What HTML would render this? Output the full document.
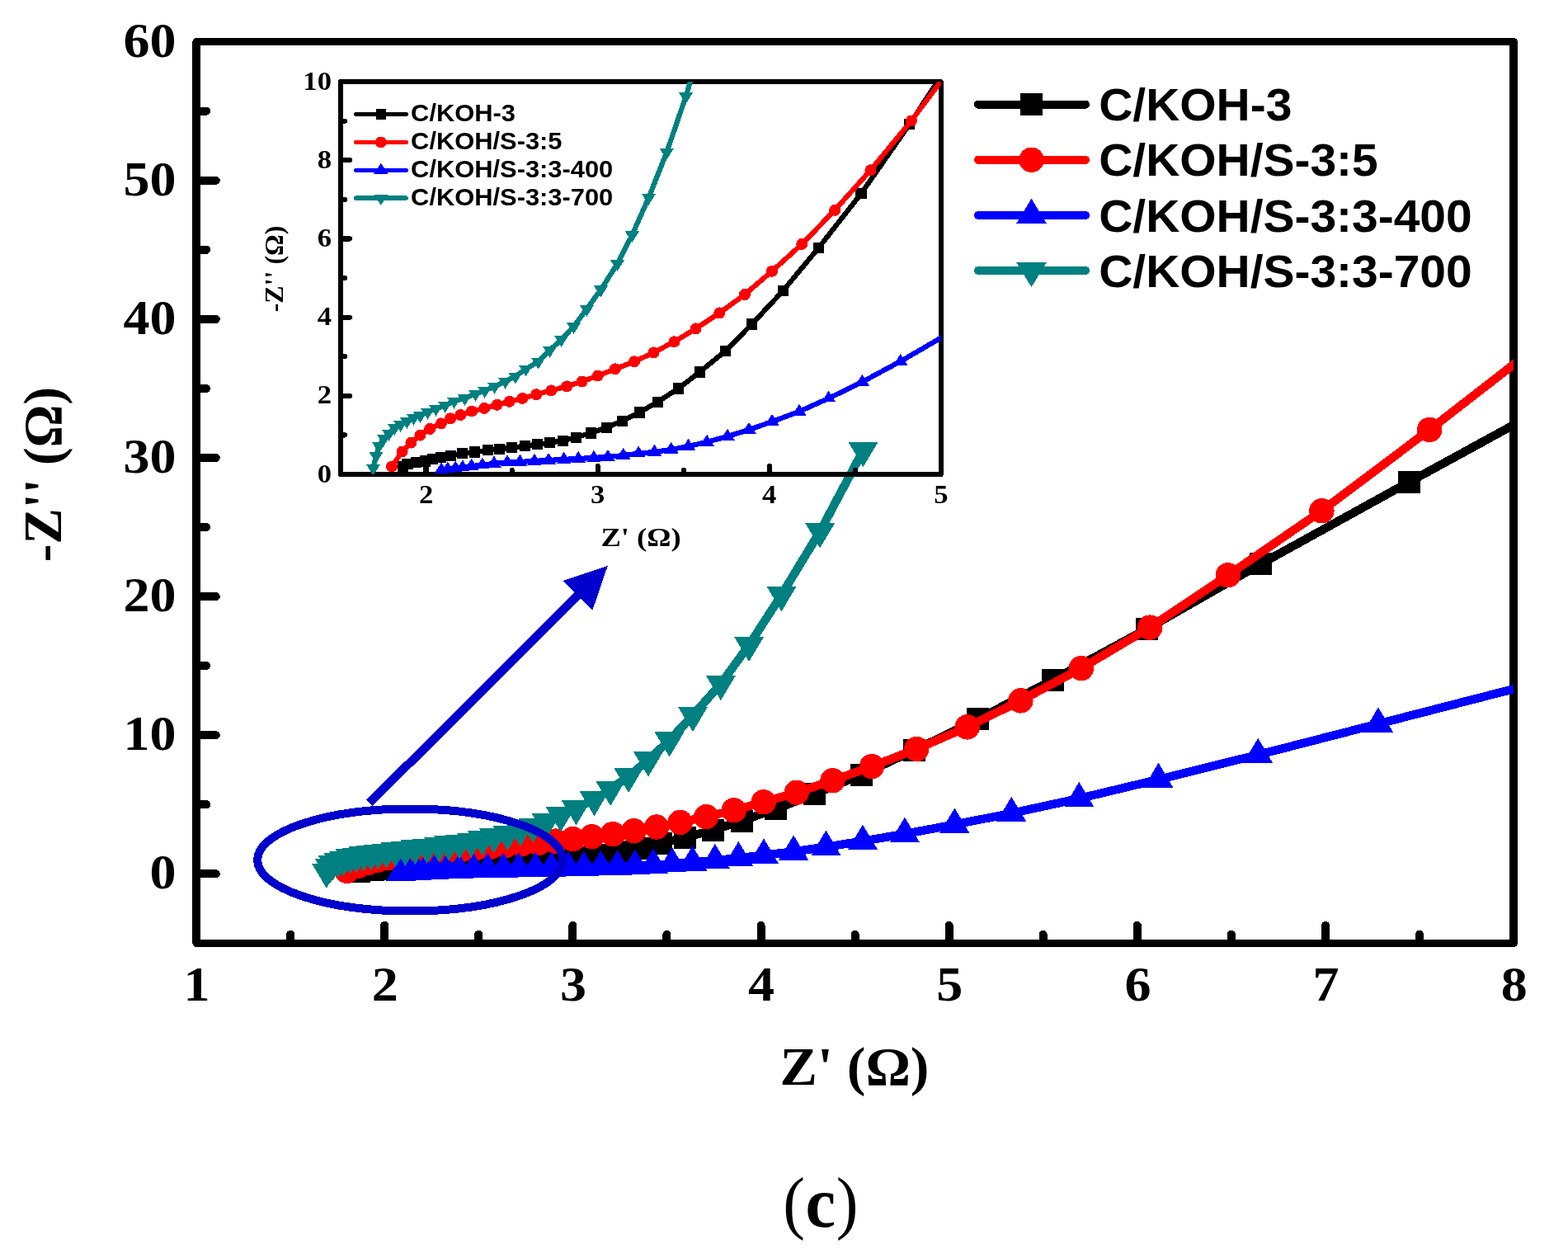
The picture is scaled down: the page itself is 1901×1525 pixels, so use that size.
<!DOCTYPE html>
<html lang="en"><head><meta charset="utf-8"><title>Nyquist plot (c)</title>
<style>html,body{margin:0;padding:0;background:#fff}body{width:1901px;height:1525px;overflow:hidden}svg{display:block;shape-rendering:crispEdges}.tk{font-family:"Liberation Serif","DejaVu Serif",serif;font-weight:bold;fill:#000}.cp{font-family:"Liberation Serif","DejaVu Serif",serif;fill:#000}.cb{font-weight:bold}.lg{font-family:"Liberation Sans","DejaVu Sans",sans-serif;font-weight:bold;fill:#000}</style></head><body>
<svg width="1901" height="1525" viewBox="0 0 1901 1525">
<rect width="1901" height="1525" fill="#fff"/>
<defs><clipPath id="cm"><rect x="238" y="50.7" width="1597.1" height="1092.7"/></clipPath>
<clipPath id="ci"><rect x="412.5" y="99.1" width="728.2" height="475.9"/></clipPath></defs>
<g id="main-axes" stroke="#000" fill="none" stroke-linecap="round">
<rect x="238" y="50.7" width="1597.1" height="1092.7" stroke-width="9.4" stroke-linejoin="round"/>
<path d="M239 1059.3H261.8M239 975.2H250.2M239 891.2H261.8M239 807.1H250.2M239 723.1H261.8M239 639H250.2M239 555H261.8M239 470.9H250.2M239 386.9H261.8M239 302.8H250.2M239 218.8H261.8M239 134.7H250.2M352.1 1142.4V1132.7M466.2 1142.4V1121.8M580.2 1142.4V1132.7M694.3 1142.4V1121.8M808.4 1142.4V1132.7M922.5 1142.4V1121.8M1036.6 1142.4V1132.7M1150.6 1142.4V1121.8M1264.7 1142.4V1132.7M1378.8 1142.4V1121.8M1492.9 1142.4V1132.7M1607 1142.4V1121.8M1721 1142.4V1132.7" stroke-width="10"/>
</g>
<g id="main-data" clip-path="url(#cm)">
<g fill="#000000" stroke="none">
<polyline fill="none" stroke="#000000" stroke-width="10.4" stroke-linejoin="round" points="435.2,1056 441.4,1054.8 452.8,1054.1 464.8,1053.6 474.7,1052.6 486.1,1052 499.1,1051.3 514.1,1050.3 530.8,1049.8 548.3,1049 563.6,1048.5 580.1,1047.9 597.5,1047.2 614.1,1046.5 630.6,1045.8 648.1,1044.9 665.6,1043.5 685.4,1041.6 706.3,1039.2 726.9,1036.4 750,1032.8 774.1,1028.3 801.6,1022.6 830.1,1015.4 864.1,1006.5 899.2,995 940.7,980.7 987.9,962.4 1044.5,939.1 1108.6,909.5 1185.8,871.9 1276.3,824.2 1390,762.7 1528.4,683.7 1708.5,584.3 1900,479.7"/>
<rect x="421.7" y="1042.5" width="27" height="27"/>
<rect x="427.9" y="1041.3" width="27" height="27"/>
<rect x="439.3" y="1040.6" width="27" height="27"/>
<rect x="451.3" y="1040.1" width="27" height="27"/>
<rect x="461.2" y="1039.1" width="27" height="27"/>
<rect x="472.6" y="1038.5" width="27" height="27"/>
<rect x="485.6" y="1037.8" width="27" height="27"/>
<rect x="500.6" y="1036.8" width="27" height="27"/>
<rect x="517.3" y="1036.3" width="27" height="27"/>
<rect x="534.8" y="1035.5" width="27" height="27"/>
<rect x="550.1" y="1035" width="27" height="27"/>
<rect x="566.6" y="1034.4" width="27" height="27"/>
<rect x="584" y="1033.7" width="27" height="27"/>
<rect x="600.6" y="1033" width="27" height="27"/>
<rect x="617.1" y="1032.3" width="27" height="27"/>
<rect x="634.6" y="1031.4" width="27" height="27"/>
<rect x="652.1" y="1030" width="27" height="27"/>
<rect x="671.9" y="1028.1" width="27" height="27"/>
<rect x="692.8" y="1025.7" width="27" height="27"/>
<rect x="713.4" y="1022.9" width="27" height="27"/>
<rect x="736.5" y="1019.3" width="27" height="27"/>
<rect x="760.6" y="1014.8" width="27" height="27"/>
<rect x="788.1" y="1009.1" width="27" height="27"/>
<rect x="816.6" y="1001.9" width="27" height="27"/>
<rect x="850.6" y="993" width="27" height="27"/>
<rect x="885.7" y="981.5" width="27" height="27"/>
<rect x="927.2" y="967.2" width="27" height="27"/>
<rect x="974.4" y="948.9" width="27" height="27"/>
<rect x="1031" y="925.6" width="27" height="27"/>
<rect x="1095.1" y="896" width="27" height="27"/>
<rect x="1172.3" y="858.4" width="27" height="27"/>
<rect x="1262.8" y="810.7" width="27" height="27"/>
<rect x="1376.5" y="749.2" width="27" height="27"/>
<rect x="1514.9" y="670.2" width="27" height="27"/>
<rect x="1695" y="570.8" width="27" height="27"/>
</g>
<g fill="#ff0000" stroke="none">
<polyline fill="none" stroke="#ff0000" stroke-width="10.4" stroke-linejoin="round" points="420.6,1055.9 434.4,1049.6 446.3,1045.7 458.3,1042.6 471.1,1039.9 486.3,1037.5 498.4,1035.4 511.9,1033.9 527,1032.3 543.6,1031 560.5,1029.6 577,1028.2 594.3,1026.8 612.7,1025.1 632.4,1023.4 653.2,1021.7 673.5,1019.6 694.5,1017.1 717.6,1014.2 742.9,1011.1 768.6,1007.2 796,1002.5 824.6,996.9 856.2,990.2 889.9,982.3 925.9,972.3 965.8,960.7 1009.5,946.2 1057,929.1 1111.2,908 1172.6,881.4 1237.4,849.4 1310.8,810.1 1394.2,760.6 1488.8,697.3 1602.4,619.3 1733.1,521 1900,391.5"/>
<circle cx="420.6" cy="1055.9" r="15.2"/>
<circle cx="434.4" cy="1049.6" r="15.2"/>
<circle cx="446.3" cy="1045.7" r="15.2"/>
<circle cx="458.3" cy="1042.6" r="15.2"/>
<circle cx="471.1" cy="1039.9" r="15.2"/>
<circle cx="486.3" cy="1037.5" r="15.2"/>
<circle cx="498.4" cy="1035.4" r="15.2"/>
<circle cx="511.9" cy="1033.9" r="15.2"/>
<circle cx="527" cy="1032.3" r="15.2"/>
<circle cx="543.6" cy="1031" r="15.2"/>
<circle cx="560.5" cy="1029.6" r="15.2"/>
<circle cx="577" cy="1028.2" r="15.2"/>
<circle cx="594.3" cy="1026.8" r="15.2"/>
<circle cx="612.7" cy="1025.1" r="15.2"/>
<circle cx="632.4" cy="1023.4" r="15.2"/>
<circle cx="653.2" cy="1021.7" r="15.2"/>
<circle cx="673.5" cy="1019.6" r="15.2"/>
<circle cx="694.5" cy="1017.1" r="15.2"/>
<circle cx="717.6" cy="1014.2" r="15.2"/>
<circle cx="742.9" cy="1011.1" r="15.2"/>
<circle cx="768.6" cy="1007.2" r="15.2"/>
<circle cx="796" cy="1002.5" r="15.2"/>
<circle cx="824.6" cy="996.9" r="15.2"/>
<circle cx="856.2" cy="990.2" r="15.2"/>
<circle cx="889.9" cy="982.3" r="15.2"/>
<circle cx="925.9" cy="972.3" r="15.2"/>
<circle cx="965.8" cy="960.7" r="15.2"/>
<circle cx="1009.5" cy="946.2" r="15.2"/>
<circle cx="1057" cy="929.1" r="15.2"/>
<circle cx="1111.2" cy="908" r="15.2"/>
<circle cx="1172.6" cy="881.4" r="15.2"/>
<circle cx="1237.4" cy="849.4" r="15.2"/>
<circle cx="1310.8" cy="810.1" r="15.2"/>
<circle cx="1394.2" cy="760.6" r="15.2"/>
<circle cx="1488.8" cy="697.3" r="15.2"/>
<circle cx="1602.4" cy="619.3" r="15.2"/>
<circle cx="1733.1" cy="521" r="15.2"/>
</g>
<g fill="#0000ff" stroke="none">
<polyline fill="none" stroke="#0000ff" stroke-width="10.4" stroke-linejoin="round" points="486.5,1057.4 495.1,1057.1 505.2,1056.8 514.8,1056.3 526.7,1055.8 541,1055.3 556.6,1054.7 574.1,1054.2 591.1,1054 610.2,1053.6 628.9,1053.3 649.3,1052.9 668.5,1052.6 689.1,1052.2 707.9,1051.9 728.4,1051.2 748.5,1050.4 769.8,1049.7 792,1048.7 814.8,1047.3 839.5,1045.5 866.9,1043 895.3,1040.2 926,1036.7 962.1,1032.4 1001.4,1026.7 1045.9,1019.7 1096.9,1010.9 1157.4,999.6 1226.2,985.9 1308.3,968 1404.5,944.9 1525.2,915 1671,877.5 1900,818.5"/>
<path d="M486.5 1037.2L504.5 1067.5L468.5 1067.5Z"/>
<path d="M495.1 1036.9L513.1 1067.2L477.1 1067.2Z"/>
<path d="M505.2 1036.6L523.2 1066.9L487.2 1066.9Z"/>
<path d="M514.8 1036.1L532.8 1066.4L496.8 1066.4Z"/>
<path d="M526.7 1035.6L544.7 1065.9L508.7 1065.9Z"/>
<path d="M541 1035.1L559 1065.4L523 1065.4Z"/>
<path d="M556.6 1034.5L574.6 1064.8L538.6 1064.8Z"/>
<path d="M574.1 1034L592.1 1064.3L556.1 1064.3Z"/>
<path d="M591.1 1033.8L609.1 1064.1L573.1 1064.1Z"/>
<path d="M610.2 1033.4L628.2 1063.7L592.2 1063.7Z"/>
<path d="M628.9 1033.1L646.9 1063.4L610.9 1063.4Z"/>
<path d="M649.3 1032.7L667.3 1063L631.3 1063Z"/>
<path d="M668.5 1032.4L686.5 1062.7L650.5 1062.7Z"/>
<path d="M689.1 1032L707.1 1062.3L671.1 1062.3Z"/>
<path d="M707.9 1031.7L725.9 1062L689.9 1062Z"/>
<path d="M728.4 1031L746.4 1061.3L710.4 1061.3Z"/>
<path d="M748.5 1030.2L766.5 1060.5L730.5 1060.5Z"/>
<path d="M769.8 1029.5L787.8 1059.8L751.8 1059.8Z"/>
<path d="M792 1028.5L810 1058.8L774 1058.8Z"/>
<path d="M814.8 1027.1L832.8 1057.4L796.8 1057.4Z"/>
<path d="M839.5 1025.3L857.5 1055.6L821.5 1055.6Z"/>
<path d="M866.9 1022.8L884.9 1053.1L848.9 1053.1Z"/>
<path d="M895.3 1020L913.3 1050.3L877.3 1050.3Z"/>
<path d="M926 1016.5L944 1046.8L908 1046.8Z"/>
<path d="M962.1 1012.2L980.1 1042.5L944.1 1042.5Z"/>
<path d="M1001.4 1006.5L1019.4 1036.8L983.4 1036.8Z"/>
<path d="M1045.9 999.5L1063.9 1029.8L1027.9 1029.8Z"/>
<path d="M1096.9 990.7L1114.9 1021L1078.9 1021Z"/>
<path d="M1157.4 979.4L1175.4 1009.7L1139.4 1009.7Z"/>
<path d="M1226.2 965.7L1244.2 996L1208.2 996Z"/>
<path d="M1308.3 947.8L1326.3 978.1L1290.3 978.1Z"/>
<path d="M1404.5 924.7L1422.5 955L1386.5 955Z"/>
<path d="M1525.2 894.8L1543.2 925.1L1507.2 925.1Z"/>
<path d="M1671 857.3L1689 887.6L1653 887.6Z"/>
</g>
<g fill="#008080" stroke="none">
<polyline fill="none" stroke="#008080" stroke-width="10.4" stroke-linejoin="round" points="395.9,1056.7 399.8,1051.4 403.6,1047.1 410.2,1043.9 416.8,1041.8 424.4,1039.3 432.2,1037.9 440.8,1036.5 449.7,1035.1 458.4,1034.1 468.3,1032.6 479.3,1031.2 491.4,1029.8 503.4,1028 517.6,1026.7 531.9,1024.9 544.1,1023.5 557.1,1021.7 571.4,1019.6 584.8,1017.4 598.8,1014.2 615.3,1011.1 630.7,1006.1 646,1001.6 662.5,996 679.8,988.5 698.5,980.2 720.5,969.1 740.1,956.8 762.1,940.8 786,921.4 811.6,897.4 840,867 873.9,829 908.1,782 947.5,721.1 994.2,644.2 1046.5,546"/>
<path d="M395.9 1076.9L413.9 1046.6L377.9 1046.6Z"/>
<path d="M399.8 1071.6L417.8 1041.3L381.8 1041.3Z"/>
<path d="M403.6 1067.3L421.6 1037L385.6 1037Z"/>
<path d="M410.2 1064.1L428.2 1033.8L392.2 1033.8Z"/>
<path d="M416.8 1062L434.8 1031.7L398.8 1031.7Z"/>
<path d="M424.4 1059.5L442.4 1029.2L406.4 1029.2Z"/>
<path d="M432.2 1058.1L450.2 1027.8L414.2 1027.8Z"/>
<path d="M440.8 1056.7L458.8 1026.4L422.8 1026.4Z"/>
<path d="M449.7 1055.3L467.7 1025L431.7 1025Z"/>
<path d="M458.4 1054.3L476.4 1024L440.4 1024Z"/>
<path d="M468.3 1052.8L486.3 1022.5L450.3 1022.5Z"/>
<path d="M479.3 1051.4L497.3 1021.1L461.3 1021.1Z"/>
<path d="M491.4 1050L509.4 1019.7L473.4 1019.7Z"/>
<path d="M503.4 1048.2L521.4 1017.9L485.4 1017.9Z"/>
<path d="M517.6 1046.9L535.6 1016.6L499.6 1016.6Z"/>
<path d="M531.9 1045.1L549.9 1014.8L513.9 1014.8Z"/>
<path d="M544.1 1043.7L562.1 1013.4L526.1 1013.4Z"/>
<path d="M557.1 1041.9L575.1 1011.6L539.1 1011.6Z"/>
<path d="M571.4 1039.8L589.4 1009.5L553.4 1009.5Z"/>
<path d="M584.8 1037.6L602.8 1007.3L566.8 1007.3Z"/>
<path d="M598.8 1034.4L616.8 1004.1L580.8 1004.1Z"/>
<path d="M615.3 1031.3L633.3 1001L597.3 1001Z"/>
<path d="M630.7 1026.3L648.7 996L612.7 996Z"/>
<path d="M646 1021.8L664 991.5L628 991.5Z"/>
<path d="M662.5 1016.2L680.5 985.9L644.5 985.9Z"/>
<path d="M679.8 1008.7L697.8 978.4L661.8 978.4Z"/>
<path d="M698.5 1000.4L716.5 970.1L680.5 970.1Z"/>
<path d="M720.5 989.3L738.5 959L702.5 959Z"/>
<path d="M740.1 977L758.1 946.7L722.1 946.7Z"/>
<path d="M762.1 961L780.1 930.7L744.1 930.7Z"/>
<path d="M786 941.6L804 911.3L768 911.3Z"/>
<path d="M811.6 917.6L829.6 887.3L793.6 887.3Z"/>
<path d="M840 887.2L858 856.9L822 856.9Z"/>
<path d="M873.9 849.2L891.9 818.9L855.9 818.9Z"/>
<path d="M908.1 802.2L926.1 771.9L890.1 771.9Z"/>
<path d="M947.5 741.3L965.5 711L929.5 711Z"/>
<path d="M994.2 664.4L1012.2 634.1L976.2 634.1Z"/>
<path d="M1046.5 566.2L1064.5 535.9L1028.5 535.9Z"/>
</g>
</g>
<g id="annot" stroke="#0000cd" fill="none">
<ellipse cx="497.3" cy="1042.5" rx="185.2" ry="62" stroke-width="10"/>
<line x1="447.8" y1="973.5" x2="702" y2="720.5" stroke-width="10.6"/>
<path d="M736.7 686.1L682.9 703.9L718.3 739.9Z" fill="#0000cd" stroke="none"/>
</g>
<g id="inset-axes" stroke="#000" fill="none" stroke-linecap="round">
<rect x="412.5" y="99.1" width="728.2" height="475.9" stroke-width="6.0" stroke-linejoin="round"/>
<path d="M413 527.4H418M413 479.8H424M413 432.2H418M413 384.6H424M413 337H418M413 289.4H424M413 241.8H418M413 194.2H424M413 146.6H418M516.5 574.5V565M620.6 574.5V570M724.6 574.5V565M828.7 574.5V570M932.8 574.5V565M1036.8 574.5V570" stroke-width="6.2"/>
</g>
<g id="inset-data" clip-path="url(#ci)">
<g fill="#000000" stroke="none">
<polyline fill="none" stroke="#000000" stroke-width="6.2" stroke-linejoin="round" points="488.3,565.6 494,562.3 504.4,560.4 515.3,558.9 524.3,556.1 534.7,554.2 546.6,552.3 560.3,549.5 575.5,548 591.5,545.7 605.4,544.3 620.5,542.7 636.3,540.7 651.5,538.7 666.5,536.8 682.5,534.1 698.5,530.2 716.5,524.9 735.6,518.1 754.4,510.2 775.4,500 797.4,487.1 822.5,471 848.5,450.8 879.5,425.5 911.5,393 949.4,352.4 992.4,300.5 1044,234.7 1102.5,150.8 1172.9,44.4"/>
<rect x="481.7" y="559" width="13.3" height="13.3"/>
<rect x="487.4" y="555.6" width="13.3" height="13.3"/>
<rect x="497.8" y="553.8" width="13.3" height="13.3"/>
<rect x="508.6" y="552.2" width="13.3" height="13.3"/>
<rect x="517.6" y="549.5" width="13.3" height="13.3"/>
<rect x="528.1" y="547.6" width="13.3" height="13.3"/>
<rect x="540" y="545.6" width="13.3" height="13.3"/>
<rect x="553.6" y="542.9" width="13.3" height="13.3"/>
<rect x="568.9" y="541.4" width="13.3" height="13.3"/>
<rect x="584.9" y="539.1" width="13.3" height="13.3"/>
<rect x="598.8" y="537.6" width="13.3" height="13.3"/>
<rect x="613.9" y="536.1" width="13.3" height="13.3"/>
<rect x="629.6" y="534.1" width="13.3" height="13.3"/>
<rect x="644.9" y="532.1" width="13.3" height="13.3"/>
<rect x="659.9" y="530.1" width="13.3" height="13.3"/>
<rect x="675.9" y="527.5" width="13.3" height="13.3"/>
<rect x="691.9" y="523.6" width="13.3" height="13.3"/>
<rect x="709.9" y="518.2" width="13.3" height="13.3"/>
<rect x="729" y="511.5" width="13.3" height="13.3"/>
<rect x="747.8" y="503.6" width="13.3" height="13.3"/>
<rect x="768.8" y="493.4" width="13.3" height="13.3"/>
<rect x="790.8" y="480.5" width="13.3" height="13.3"/>
<rect x="815.9" y="464.4" width="13.3" height="13.3"/>
<rect x="841.9" y="444.2" width="13.3" height="13.3"/>
<rect x="872.9" y="418.9" width="13.3" height="13.3"/>
<rect x="904.9" y="386.4" width="13.3" height="13.3"/>
<rect x="942.8" y="345.8" width="13.3" height="13.3"/>
<rect x="985.8" y="293.9" width="13.3" height="13.3"/>
<rect x="1037.3" y="228" width="13.3" height="13.3"/>
<rect x="1095.8" y="144.1" width="13.3" height="13.3"/>
</g>
<g fill="#ff0000" stroke="none">
<polyline fill="none" stroke="#ff0000" stroke-width="6.2" stroke-linejoin="round" points="475,565.5 487.6,547.5 498.4,536.6 509.4,527.6 521.1,520 534.9,513.4 546,507.4 558.3,503 572,498.5 587.2,494.9 602.6,490.8 617.6,486.8 633.4,482.9 650.2,478.2 668.2,473.4 687.1,468.4 705.7,462.5 724.8,455.5 745.9,447.3 769,438.4 792.4,427.4 817.4,414.3 843.5,398.4 872.3,379.4 903,357 935.9,328.8 972.3,295.9 1012.1,254.8 1055.4,206.3 1104.9,146.5 1160.9,71.3"/>
<circle cx="475" cy="565.5" r="7"/>
<circle cx="487.6" cy="547.5" r="7"/>
<circle cx="498.4" cy="536.6" r="7"/>
<circle cx="509.4" cy="527.6" r="7"/>
<circle cx="521.1" cy="520" r="7"/>
<circle cx="534.9" cy="513.4" r="7"/>
<circle cx="546" cy="507.4" r="7"/>
<circle cx="558.3" cy="503" r="7"/>
<circle cx="572" cy="498.5" r="7"/>
<circle cx="587.2" cy="494.9" r="7"/>
<circle cx="602.6" cy="490.8" r="7"/>
<circle cx="617.6" cy="486.8" r="7"/>
<circle cx="633.4" cy="482.9" r="7"/>
<circle cx="650.2" cy="478.2" r="7"/>
<circle cx="668.2" cy="473.4" r="7"/>
<circle cx="687.1" cy="468.4" r="7"/>
<circle cx="705.7" cy="462.5" r="7"/>
<circle cx="724.8" cy="455.5" r="7"/>
<circle cx="745.9" cy="447.3" r="7"/>
<circle cx="769" cy="438.4" r="7"/>
<circle cx="792.4" cy="427.4" r="7"/>
<circle cx="817.4" cy="414.3" r="7"/>
<circle cx="843.5" cy="398.4" r="7"/>
<circle cx="872.3" cy="379.4" r="7"/>
<circle cx="903" cy="357" r="7"/>
<circle cx="935.9" cy="328.8" r="7"/>
<circle cx="972.3" cy="295.9" r="7"/>
<circle cx="1012.1" cy="254.8" r="7"/>
<circle cx="1055.4" cy="206.3" r="7"/>
<circle cx="1104.9" cy="146.5" r="7"/>
</g>
<g fill="#0000ff" stroke="none">
<polyline fill="none" stroke="#0000ff" stroke-width="6.2" stroke-linejoin="round" points="535.1,569.7 542.9,568.8 552.2,567.8 560.9,566.6 571.8,565 584.8,563.8 599,561.9 615,560.6 630.5,559.9 647.9,558.9 665,558 683.6,556.9 701.1,556 719.9,554.9 737,554 755.7,552 774.1,549.7 793.5,547.9 813.7,545 834.5,541 857.1,535.9 882.1,528.9 908,521 936,511.1 968.9,498.9 1004.7,482.8 1045.3,463 1091.8,438 1147,406"/>
<path d="M535.1 560.5L543.7 574.3L526.5 574.3Z"/>
<path d="M542.9 559.6L551.5 573.4L534.3 573.4Z"/>
<path d="M552.2 558.6L560.8 572.4L543.6 572.4Z"/>
<path d="M560.9 557.4L569.5 571.2L552.3 571.2Z"/>
<path d="M571.8 555.8L580.4 569.6L563.2 569.6Z"/>
<path d="M584.8 554.6L593.4 568.4L576.2 568.4Z"/>
<path d="M599 552.7L607.6 566.5L590.4 566.5Z"/>
<path d="M615 551.4L623.6 565.2L606.4 565.2Z"/>
<path d="M630.5 550.7L639.1 564.5L621.9 564.5Z"/>
<path d="M647.9 549.7L656.5 563.5L639.3 563.5Z"/>
<path d="M665 548.8L673.6 562.6L656.4 562.6Z"/>
<path d="M683.6 547.7L692.2 561.5L675 561.5Z"/>
<path d="M701.1 546.8L709.7 560.6L692.5 560.6Z"/>
<path d="M719.9 545.7L728.5 559.5L711.3 559.5Z"/>
<path d="M737 544.8L745.6 558.6L728.4 558.6Z"/>
<path d="M755.7 542.8L764.3 556.6L747.1 556.6Z"/>
<path d="M774.1 540.5L782.7 554.3L765.5 554.3Z"/>
<path d="M793.5 538.7L802.1 552.5L784.9 552.5Z"/>
<path d="M813.7 535.8L822.3 549.6L805.1 549.6Z"/>
<path d="M834.5 531.8L843.1 545.6L825.9 545.6Z"/>
<path d="M857.1 526.7L865.7 540.5L848.5 540.5Z"/>
<path d="M882.1 519.7L890.7 533.5L873.5 533.5Z"/>
<path d="M908 511.8L916.6 525.6L899.4 525.6Z"/>
<path d="M936 501.9L944.6 515.7L927.4 515.7Z"/>
<path d="M968.9 489.7L977.5 503.5L960.3 503.5Z"/>
<path d="M1004.7 473.6L1013.3 487.4L996.1 487.4Z"/>
<path d="M1045.3 453.8L1053.9 467.6L1036.7 467.6Z"/>
<path d="M1091.8 428.8L1100.4 442.6L1083.2 442.6Z"/>
</g>
<g fill="#008080" stroke="none">
<polyline fill="none" stroke="#008080" stroke-width="6.2" stroke-linejoin="round" points="452.5,567.5 456,552.5 459.5,540.5 465.5,531.5 471.5,525.4 478.5,518.5 485.6,514.5 493.4,510.5 501.5,506.4 509.5,503.6 518.5,499.5 528.5,495.5 539.6,491.5 550.5,486.5 563.5,482.6 576.5,477.5 587.6,473.6 599.5,468.5 612.5,462.5 624.8,456.3 637.5,447.3 652.6,438.4 666.6,424.5 680.6,411.5 695.6,395.7 711.4,374.6 728.5,351 748.5,319.7 766.4,284.8 786.5,239.5 808.3,184.6 831.6,116.7 857.5,30.5"/>
<path d="M452.5 576.7L461.1 562.9L443.9 562.9Z"/>
<path d="M456 561.7L464.6 547.9L447.4 547.9Z"/>
<path d="M459.5 549.7L468.1 535.9L450.9 535.9Z"/>
<path d="M465.5 540.7L474.1 526.9L456.9 526.9Z"/>
<path d="M471.5 534.6L480.1 520.8L462.9 520.8Z"/>
<path d="M478.5 527.7L487.1 513.9L469.9 513.9Z"/>
<path d="M485.6 523.7L494.2 509.9L477 509.9Z"/>
<path d="M493.4 519.7L502 505.9L484.8 505.9Z"/>
<path d="M501.5 515.6L510.1 501.8L492.9 501.8Z"/>
<path d="M509.5 512.8L518.1 499L500.9 499Z"/>
<path d="M518.5 508.7L527.1 494.9L509.9 494.9Z"/>
<path d="M528.5 504.7L537.1 490.9L519.9 490.9Z"/>
<path d="M539.6 500.7L548.2 486.9L531 486.9Z"/>
<path d="M550.5 495.7L559.1 481.9L541.9 481.9Z"/>
<path d="M563.5 491.8L572.1 478L554.9 478Z"/>
<path d="M576.5 486.7L585.1 472.9L567.9 472.9Z"/>
<path d="M587.6 482.8L596.2 469L579 469Z"/>
<path d="M599.5 477.7L608.1 463.9L590.9 463.9Z"/>
<path d="M612.5 471.7L621.1 457.9L603.9 457.9Z"/>
<path d="M624.8 465.5L633.4 451.7L616.2 451.7Z"/>
<path d="M637.5 456.5L646.1 442.7L628.9 442.7Z"/>
<path d="M652.6 447.6L661.2 433.8L644 433.8Z"/>
<path d="M666.6 433.7L675.2 419.9L658 419.9Z"/>
<path d="M680.6 420.7L689.2 406.9L672 406.9Z"/>
<path d="M695.6 404.9L704.2 391.1L687 391.1Z"/>
<path d="M711.4 383.8L720 370L702.8 370Z"/>
<path d="M728.5 360.2L737.1 346.4L719.9 346.4Z"/>
<path d="M748.5 328.9L757.1 315.1L739.9 315.1Z"/>
<path d="M766.4 294L775 280.2L757.8 280.2Z"/>
<path d="M786.5 248.7L795.1 234.9L777.9 234.9Z"/>
<path d="M808.3 193.8L816.9 180L799.7 180Z"/>
<path d="M831.6 125.9L840.2 112.1L823 112.1Z"/>
</g>
</g>
<g id="main-legend">
<g fill="#000000" stroke="none">
<line x1="1186" y1="126.7" x2="1316" y2="126.7" stroke="#000000" stroke-width="10.1" stroke-linecap="round"/>
<rect x="1237" y="113.2" width="27" height="27"/>
</g>
<text class="lg" font-size="56" transform="translate(1332.2 146.3) scale(1.017 1)">C/KOH-3</text>
<g fill="#ff0000" stroke="none">
<line x1="1186" y1="193.8" x2="1316" y2="193.8" stroke="#ff0000" stroke-width="10.1" stroke-linecap="round"/>
<circle cx="1250.5" cy="193.8" r="15.2"/>
</g>
<text class="lg" font-size="56" transform="translate(1332.2 213.4) scale(1.017 1)">C/KOH/S-3:5</text>
<g fill="#0000ff" stroke="none">
<line x1="1186" y1="261" x2="1316" y2="261" stroke="#0000ff" stroke-width="10.1" stroke-linecap="round"/>
<path d="M1250.5 240.8L1269 271.1L1232 271.1Z"/>
</g>
<text class="lg" font-size="56" transform="translate(1332.2 280.6) scale(1.017 1)">C/KOH/S-3:3-400</text>
<g fill="#008080" stroke="none">
<line x1="1186" y1="327.9" x2="1316" y2="327.9" stroke="#008080" stroke-width="10.1" stroke-linecap="round"/>
<path d="M1250.5 348.1L1269 317.8L1232 317.8Z"/>
</g>
<text class="lg" font-size="56" transform="translate(1332.2 347.5) scale(1.017 1)">C/KOH/S-3:3-700</text>
</g>
<g id="inset-legend">
<g fill="#000000" stroke="none">
<line x1="431.6" y1="138.4" x2="492.2" y2="138.4" stroke="#000000" stroke-width="5.3" stroke-linecap="round"/>
<rect x="455.5" y="132.1" width="12.6" height="12.6"/>
</g>
<text class="lg" font-size="29.2" transform="translate(498.1 147.1) scale(1.057 1)">C/KOH-3</text>
<g fill="#ff0000" stroke="none">
<line x1="431.6" y1="172.4" x2="492.2" y2="172.4" stroke="#ff0000" stroke-width="5.3" stroke-linecap="round"/>
<circle cx="461.8" cy="172.4" r="6.9"/>
</g>
<text class="lg" font-size="29.2" transform="translate(498.1 181.1) scale(1.057 1)">C/KOH/S-3:5</text>
<g fill="#0000ff" stroke="none">
<line x1="431.6" y1="206.4" x2="492.2" y2="206.4" stroke="#0000ff" stroke-width="5.3" stroke-linecap="round"/>
<path d="M461.8 197.7L470.3 210.7L453.3 210.7Z"/>
</g>
<text class="lg" font-size="29.2" transform="translate(498.1 215.1) scale(1.057 1)">C/KOH/S-3:3-400</text>
<g fill="#008080" stroke="none">
<line x1="431.6" y1="240.1" x2="492.2" y2="240.1" stroke="#008080" stroke-width="5.3" stroke-linecap="round"/>
<path d="M461.8 248.8L470.3 235.8L453.3 235.8Z"/>
</g>
<text class="lg" font-size="29.2" transform="translate(498.1 248.8) scale(1.057 1)">C/KOH/S-3:3-700</text>
</g>
<g id="main-ticklabels">
<text class="tk" font-size="59" transform="translate(213.4 1077.3) scale(1.085 1)" text-anchor="end">0</text>
<text class="tk" font-size="59" transform="translate(213.4 909.19) scale(1.085 1)" text-anchor="end">10</text>
<text class="tk" font-size="59" transform="translate(213.4 741.08) scale(1.085 1)" text-anchor="end">20</text>
<text class="tk" font-size="59" transform="translate(213.4 572.97) scale(1.085 1)" text-anchor="end">30</text>
<text class="tk" font-size="59" transform="translate(213.4 404.86) scale(1.085 1)" text-anchor="end">40</text>
<text class="tk" font-size="59" transform="translate(213.4 236.75) scale(1.085 1)" text-anchor="end">50</text>
<text class="tk" font-size="59" transform="translate(213.4 68.64) scale(1.085 1)" text-anchor="end">60</text>
<text class="tk" font-size="59" transform="translate(238.6 1213) scale(1.085 1)" text-anchor="middle">1</text>
<text class="tk" font-size="59" transform="translate(466.76 1213) scale(1.085 1)" text-anchor="middle">2</text>
<text class="tk" font-size="59" transform="translate(694.92 1213) scale(1.085 1)" text-anchor="middle">3</text>
<text class="tk" font-size="59" transform="translate(923.08 1213) scale(1.085 1)" text-anchor="middle">4</text>
<text class="tk" font-size="59" transform="translate(1151.24 1213) scale(1.085 1)" text-anchor="middle">5</text>
<text class="tk" font-size="59" transform="translate(1379.4 1213) scale(1.085 1)" text-anchor="middle">6</text>
<text class="tk" font-size="59" transform="translate(1607.56 1213) scale(1.085 1)" text-anchor="middle">7</text>
<text class="tk" font-size="59" transform="translate(1835.72 1213) scale(1.085 1)" text-anchor="middle">8</text>
</g>
<text class="tk" font-size="64.5" transform="translate(1036 1314.8) scale(1.054 1)" text-anchor="middle">Z' (Ω)</text>
<text class="tk" font-size="64.5" transform="translate(74.1 575) rotate(-90) scale(1.006 1)" text-anchor="middle">-Z'' (Ω)</text>
<g id="inset-ticklabels">
<text class="tk" font-size="31.5" transform="translate(402 584.6) scale(1.1 1)" text-anchor="end">0</text>
<text class="tk" font-size="31.5" transform="translate(402 489.4) scale(1.1 1)" text-anchor="end">2</text>
<text class="tk" font-size="31.5" transform="translate(402 394.2) scale(1.1 1)" text-anchor="end">4</text>
<text class="tk" font-size="31.5" transform="translate(402 299) scale(1.1 1)" text-anchor="end">6</text>
<text class="tk" font-size="31.5" transform="translate(402 203.8) scale(1.1 1)" text-anchor="end">8</text>
<text class="tk" font-size="31.5" transform="translate(402 108.6) scale(1.1 1)" text-anchor="end">10</text>
<text class="tk" font-size="31.5" transform="translate(516.55 610.3) scale(1.1 1)" text-anchor="middle">2</text>
<text class="tk" font-size="31.5" transform="translate(724.65 610.3) scale(1.1 1)" text-anchor="middle">3</text>
<text class="tk" font-size="31.5" transform="translate(932.75 610.3) scale(1.1 1)" text-anchor="middle">4</text>
<text class="tk" font-size="31.5" transform="translate(1140.85 610.3) scale(1.1 1)" text-anchor="middle">5</text>
</g>
<text class="tk" font-size="32" transform="translate(777 661.8) scale(1.14 1)" text-anchor="middle">Z' (Ω)</text>
<text class="tk" font-size="32" transform="translate(343.1 326) rotate(-90)" text-anchor="middle">-Z'' (Ω)</text>
<text id="caption" class="cp" font-size="85.3" transform="translate(949.2 1486.4) scale(0.94 1)"><tspan x="0">(</tspan><tspan class="cb" x="29.1" dy="0.6" font-size="87.7">c</tspan><tspan x="68.6" dy="-0.6">)</tspan></text>
</svg></body></html>
